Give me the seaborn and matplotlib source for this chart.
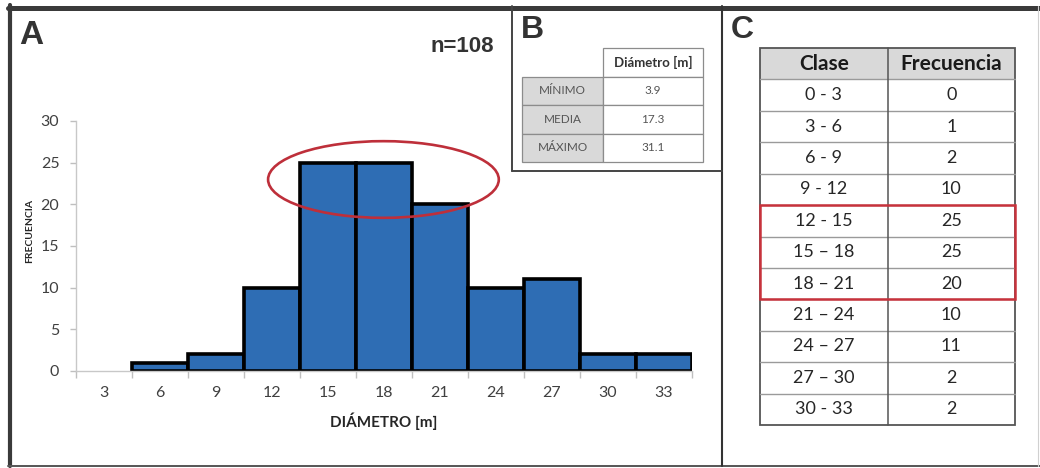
import matplotlib
matplotlib.use("Agg")
import numpy as np
import pandas as pd
import matplotlib.pyplot as plt
import seaborn as sns
from matplotlib.patches import Ellipse, Rectangle

# ---- data ----
diam_labels = ["3", "6", "9", "12", "15", "18", "21", "24", "27", "30", "33"]
frequencies = [0, 1, 2, 10, 25, 25, 20, 10, 11, 2, 2]
class_labels = ["0 - 3", "3 - 6", "6 - 9", "9 - 12", "12 - 15", "15 – 18",
                "18 – 21", "21 – 24", "24 – 27", "27 – 30", "30 - 33"]
highlight_classes = ["12 - 15", "15 – 18", "18 – 21"]
stat_names = ["MÍNIMO", "MEDIA", "MÁXIMO"]
stat_values = ["3.9", "17.3", "31.1"]
stat_header = "Diámetro [m]"

sns.set_theme(style="white")
plt.rcParams["font.family"] = ["Lato", "DejaVu Sans"]
ARIAL = ["Liberation Sans", "DejaVu Sans"]

W, H = 1040, 468
fig = plt.figure(figsize=(W / 100, H / 100), dpi=100)
fig.patch.set_facecolor("white")


def rect(l, t, r, b):
    return [l / W, 1 - b / H, (r - l) / W, (b - t) / H]


# ---- panel A: histogram ----
ax = fig.add_axes(rect(76, 121, 692, 371))
df = pd.DataFrame({"diametro": diam_labels, "frecuencia": frequencies})
sns.barplot(data=df, x="diametro", y="frecuencia", order=diam_labels,
            color="#2E6DB4", saturation=1, width=1.0, edgecolor="black",
            linewidth=2.6, ax=ax, zorder=2)
for p in ax.patches:
    if p.get_height() == 0:
        p.set_linewidth(0)

ax.set_xlim(-0.5, len(diam_labels) - 0.5)
ax.set_ylim(0, 30)
ax.set_yticks(np.arange(0, 31, 5))
ax.set_xticks(np.arange(-0.5, len(diam_labels), 1))
ax.set_xticklabels([])
ax.set_xticks(np.arange(len(diam_labels)), minor=True)
ax.set_xticklabels(diam_labels, minor=True)
ax.tick_params(axis="x", which="major", length=5, width=1, color="#BFBFBF",
               direction="out", bottom=True)
ax.tick_params(axis="x", which="minor", length=0, pad=11, labelsize=11.5,
               labelcolor="#404040")
ax.tick_params(axis="y", length=4, width=1, color="#BFBFBF", direction="out",
               left=True, pad=8, labelsize=11.5, labelcolor="#404040")
for s in ["top", "right"]:
    ax.spines[s].set_visible(False)
for s in ["left", "bottom"]:
    ax.spines[s].set_color("#C8C8C8")
    ax.spines[s].set_linewidth(1)

ax.set_xlabel("DIÁMETRO [m]", fontsize=11, fontweight="bold", color="#262626")
ax.xaxis.set_label_coords(0.5, -(413 - 371) / 250)
ax.set_ylabel("FRECUENCIA", fontsize=7.5, fontweight="bold", color="#262626")
ax.yaxis.set_label_coords(-(76 - 34) / 616, 0.56)

ell = Ellipse((4.99, 22.98), width=4.12, height=9.2, fill=False,
              edgecolor="#BE2F3A", linewidth=1.9, zorder=5, clip_on=False)
ax.add_patch(ell)

fig.text(494 / W, 1 - 47 / H, f"n={sum(frequencies)}", ha="right", va="center",
         fontsize=16, fontweight="bold", color="#333333", family=ARIAL)
fig.text(19 / W, 1 - 36 / H, "A", ha="left", va="center", fontsize=24,
         fontweight="bold", color="#333333", family=ARIAL)

# ---- panel B: summary table ----
fig.text(521 / W, 1 - 30 / H, "B", ha="left", va="center", fontsize=23,
         fontweight="bold", color="#333333", family=ARIAL)
axb = fig.add_axes(rect(522, 48, 703, 162))
axb.set_xlim(0, 1)
axb.set_ylim(len(stat_names) + 1, 0)
axb.axis("off")
split = 0.448
grid_col = "#8C8C8C"
axb.add_patch(Rectangle((split, 0), 1 - split, 1, facecolor="white",
                        edgecolor=grid_col, linewidth=0.9, clip_on=False))
axb.text((split + 1) / 2, 0.5, stat_header, ha="center", va="center",
         fontsize=9.5, fontweight="bold", color="#333333")
for i, (name, val) in enumerate(zip(stat_names, stat_values), start=1):
    axb.add_patch(Rectangle((0, i), split, 1, facecolor="#D9D9D9",
                            edgecolor=grid_col, linewidth=0.9, clip_on=False))
    axb.add_patch(Rectangle((split, i), 1 - split, 1, facecolor="white",
                            edgecolor=grid_col, linewidth=0.9, clip_on=False))
    axb.text(split / 2, i + 0.5, name, ha="center", va="center", fontsize=8.5,
             color="#555555")
    axb.text((split + 1) / 2, i + 0.5, val, ha="center", va="center",
             fontsize=8.5, color="#555555")

# ---- panel C: frequency table ----
fig.text(731 / W, 1 - 30 / H, "C", ha="left", va="center", fontsize=23,
         fontweight="bold", color="#333333", family=ARIAL)
axc = fig.add_axes(rect(760, 48, 1015, 425))
nrows = len(class_labels) + 1
axc.set_xlim(0, 2)
axc.set_ylim(nrows, 0)
axc.axis("off")
axc.add_patch(Rectangle((0, 0), 2, 1, facecolor="#D9D9D9", edgecolor="none"))
for r in range(1, nrows):
    axc.plot([0, 2], [r, r], color="#9A9A9A", linewidth=1, clip_on=False)
axc.plot([1, 1], [0, nrows], color="#555555", linewidth=1.1, clip_on=False)
axc.add_patch(Rectangle((0, 0), 2, nrows, fill=False, edgecolor="#555555",
                        linewidth=1.3, clip_on=False))
axc.text(0.5, 0.5, "Clase", ha="center", va="center", fontsize=15,
         fontweight="bold", color="#1A1A1A")
axc.text(1.5, 0.5, "Frecuencia", ha="center", va="center", fontsize=15,
         fontweight="bold", color="#1A1A1A")
for i, (cls, f) in enumerate(zip(class_labels, frequencies), start=1):
    axc.text(0.5, i + 0.5, cls, ha="center", va="center", fontsize=13,
             color="#262626")
    axc.text(1.5, i + 0.5, str(f), ha="center", va="center", fontsize=13,
             color="#262626")
hl_rows = [class_labels.index(c) + 1 for c in highlight_classes]
axc.add_patch(Rectangle((0, min(hl_rows)), 2, len(hl_rows), fill=False,
                        edgecolor="#C8323C", linewidth=1.8, zorder=5,
                        clip_on=False))

# ---- panel frames ----
frame = fig.add_axes([0, 0, 1, 1], facecolor="none")
frame.set_xlim(0, W)
frame.set_ylim(H, 0)
frame.axis("off")
frame.plot([8, W], [7.5, 7.5], color="#3A3A3A", linewidth=3.6)
frame.plot([10, 10], [5, 466], color="#3A3A3A", linewidth=3.0)
frame.plot([8, W], [465.5, 465.5], color="#555555", linewidth=1.4)
frame.plot([722, 722], [6, 466], color="#333333", linewidth=1.5)
frame.plot([512, 512], [6, 171], color="#444444", linewidth=1.4)
frame.plot([512, 722], [171, 171], color="#444444", linewidth=1.4)
frame.plot([1037.5, 1037.5], [6, 466], color="#D0D0D0", linewidth=0.8)

fig.savefig("out.png", dpi=100, facecolor="white")
